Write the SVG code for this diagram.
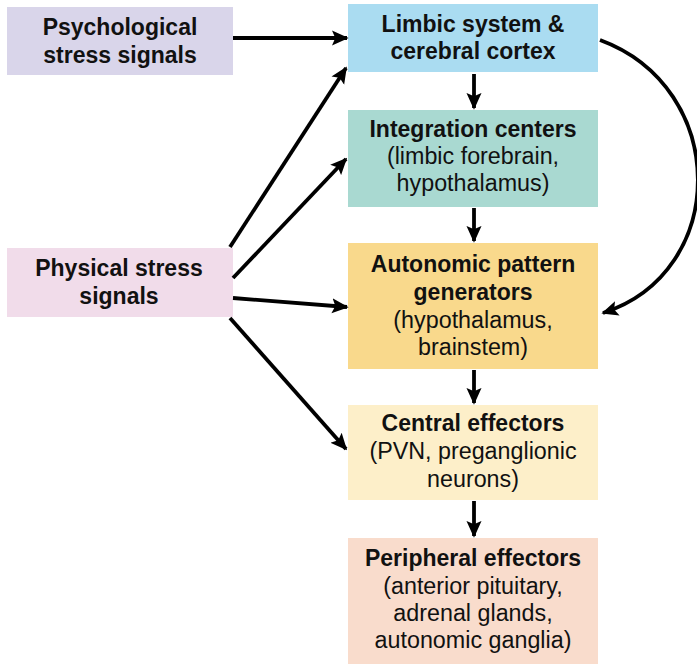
<svg xmlns="http://www.w3.org/2000/svg" width="697" height="664" viewBox="0 0 697 664">
<defs>
<marker id="ah" viewBox="0 0 10 10" refX="9" refY="5" markerWidth="4.4" markerHeight="4.4" markerUnits="strokeWidth" orient="auto">
<path d="M0,0.5 L10,5 L0,9.5 L2,5 Z" fill="#000"/>
</marker>
<style>
.t{font-family:"Liberation Sans",Arial,sans-serif;font-size:23.3px;fill:#111;text-anchor:middle}
.b{font-weight:bold;font-size:23px}
.c{fill:none;stroke:#000;stroke-width:3.8;marker-end:url(#ah)}
</style>
</defs>
<rect width="697" height="664" fill="#fff"/>
<g id="psych">
<rect x="7" y="7" width="226" height="68" fill="#d9d5ea"/>
<text class="t b" x="120" y="35">Psychological</text>
<text class="t b" x="120" y="63">stress signals</text>
</g>
<g id="physical">
<rect x="7" y="248" width="226" height="69" fill="#f1dcea"/>
<text class="t b" x="119" y="276">Physical stress</text>
<text class="t b" x="119" y="304">signals</text>
</g>
<g id="limbic">
<rect x="348" y="4" width="250" height="68" fill="#aadcf1"/>
<text class="t b" x="473" y="32">Limbic system &amp;</text>
<text class="t b" x="473" y="59">cerebral cortex</text>
</g>
<g id="integration">
<rect x="348" y="110" width="250" height="97" fill="#a9d9d1"/>
<text class="t b" x="473" y="137">Integration centers</text>
<text class="t" x="473" y="164">(limbic forebrain,</text>
<text class="t" x="473" y="191">hypothalamus)</text>
</g>
<g id="autonomic">
<rect x="348" y="243" width="250" height="126" fill="#f9d98c"/>
<text class="t b" x="473" y="272">Autonomic pattern</text>
<text class="t b" x="473" y="300">generators</text>
<text class="t" x="473" y="328">(hypothalamus,</text>
<text class="t" x="473" y="355">brainstem)</text>
</g>
<g id="central">
<rect x="348" y="405" width="250" height="95" fill="#fdefc9"/>
<text class="t b" x="473" y="431">Central effectors</text>
<text class="t" x="473" y="459">(PVN, preganglionic</text>
<text class="t" x="473" y="487">neurons)</text>
</g>
<g id="peripheral">
<rect x="348" y="538" width="250" height="126" fill="#f9dccc"/>
<text class="t b" x="473" y="566">Peripheral effectors</text>
<text class="t" x="473" y="594">(anterior pituitary,</text>
<text class="t" x="473" y="621">adrenal glands,</text>
<text class="t" x="473" y="648">autonomic ganglia)</text>
</g>
<g id="connectors">
<line class="c" x1="233" y1="38" x2="347" y2="38"/>
<line class="c" x1="230" y1="247" x2="346" y2="68"/>
<line class="c" x1="233" y1="278" x2="346" y2="159"/>
<line class="c" x1="233" y1="298" x2="347" y2="307"/>
<line class="c" x1="230" y1="318" x2="346" y2="449"/>
<line class="c" x1="474" y1="74" x2="474" y2="108"/>
<line class="c" x1="474" y1="208" x2="474" y2="241"/>
<line class="c" x1="474" y1="370" x2="474" y2="403"/>
<line class="c" x1="474" y1="501" x2="474" y2="536"/>
<path class="c" d="M600,40 C730,88 730,272 603,313"/>
</g>
</svg>
